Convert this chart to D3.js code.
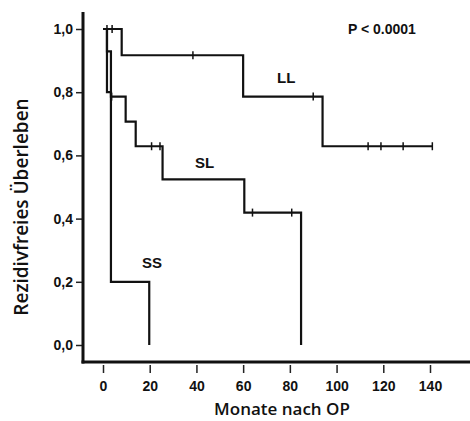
<html>
<head>
<meta charset="UTF-8"/>
<script src="https://d3js.org/d3.v7.min.js"></script>
<style>
body { margin: 0; background: #fff; }
svg { display: block; }
.tick text { font-family: 'Liberation Sans', Arial, sans-serif; font-weight: bold; font-size: 14px; fill: #111; }
.tick line { stroke: #222; stroke-width: 1.5; }
.domain { display: none; }
text.label { font-family: 'Liberation Sans', Arial, sans-serif; font-weight: bold; fill: #111; }
text.title { font-family: 'Open Sans', sans-serif; font-weight: 600; font-size: 17px; fill: #111; }
</style>
</head>
<body>
<svg width="470" height="421"></svg>
<script>
// Kaplan-Meier steps: [time, survival after step]
const LL = [[0, 1], [8, 0.917], [60, 0.786], [94, 0.629]];
const LLend = 141;
const LLcens = [[1.7, 1], [3.9, 1], [38.5, 0.917], [90, 0.786], [113.5, 0.629], [119, 0.629], [128.5, 0.629], [141, 0.629]];

const SL = [[0, 1], [1.7, 0.929], [3.4, 0.786], [9.7, 0.707], [14, 0.629], [25.5, 0.524], [60.5, 0.419], [84.8, 0]];
const SLcens = [[3.7, 0.786], [20.8, 0.629], [24.4, 0.629], [64, 0.419], [80.8, 0.419]];

const SS = [[0, 1], [1.7, 0.8], [3.4, 0.2], [19.8, 0]];

const xTicks = [0, 20, 40, 60, 80, 100, 120, 140];
const yTicks = [0, 0.2, 0.4, 0.6, 0.8, 1.0];

const svg = d3.select('svg');
const x = d3.scaleLinear().domain([0, 140]).range([103, 430]);
const y = d3.scaleLinear().domain([0, 1]).range([345, 29]);

// axes
svg.append('g')
  .attr('transform', 'translate(83,0)')
  .call(d3.axisLeft(y).tickValues(yTicks).tickSize(7).tickPadding(3)
    .tickFormat(d => d3.format('.1f')(d).replace('.', ',')));

svg.append('g')
  .attr('transform', 'translate(0,365)')
  .call(d3.axisBottom(x).tickValues(xTicks).tickSize(8).tickPadding(8));

svg.append('line')
  .attr('x1', 83).attr('x2', 83).attr('y1', 12).attr('y2', 363.5)
  .attr('stroke', '#111').attr('stroke-width', 3);
svg.append('line')
  .attr('x1', 81.5).attr('x2', 470).attr('y1', 362).attr('y2', 362)
  .attr('stroke', '#111').attr('stroke-width', 3);

// step curves
function stepPath(pts, end) {
  let d = `M${x(pts[0][0])},${y(pts[0][1])}`;
  for (let i = 1; i < pts.length; i++) {
    d += `H${x(pts[i][0])}V${y(pts[i][1])}`;
  }
  if (end !== undefined) d += `H${x(end)}`;
  return d;
}

[[LL, LLend], [SL], [SS]].forEach(([pts, end]) => {
  svg.append('path')
    .attr('d', stepPath(pts, end))
    .attr('fill', 'none')
    .attr('stroke', '#111')
    .attr('stroke-width', 2.2);
});

svg.selectAll('line.cens')
  .data(LLcens.concat(SLcens))
  .enter().append('line')
  .attr('class', 'cens')
  .attr('x1', d => x(d[0])).attr('x2', d => x(d[0]))
  .attr('y1', d => y(d[1]) - 4).attr('y2', d => y(d[1]) + 4)
  .attr('stroke', '#111').attr('stroke-width', 1.5);

// labels
svg.append('text').attr('class', 'label').attr('x', 348).attr('y', 34)
  .style('font-size', '14px').text('P < 0.0001');
svg.append('text').attr('class', 'label').attr('x', 277).attr('y', 83)
  .style('font-size', '15px').text('LL');
svg.append('text').attr('class', 'label').attr('x', 195).attr('y', 168)
  .style('font-size', '15px').text('SL');
svg.append('text').attr('class', 'label').attr('x', 142).attr('y', 268)
  .style('font-size', '15px').text('SS');

svg.append('text').attr('class', 'title')
  .attr('x', 282).attr('y', 415).attr('text-anchor', 'middle')
  .text('Monate nach OP');
svg.append('text').attr('class', 'title')
  .attr('transform', 'translate(28,207) rotate(-90)')
  .attr('text-anchor', 'middle')
  .style('font-size', '19px')
  .text('Rezidivfreies Überleben');
</script>
</body>
</html>
